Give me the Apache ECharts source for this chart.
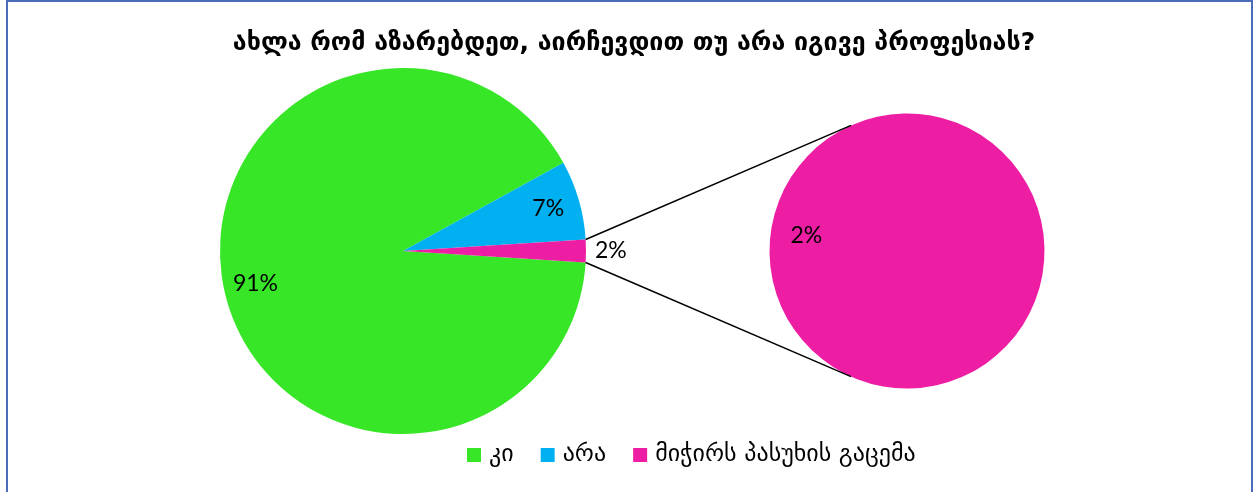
<!DOCTYPE html>
<html lang="ka">
<head>
    <meta charset="UTF-8">
    <script src="https://cdn.jsdelivr.net/npm/echarts@6/dist/echarts.min.js"></script>
    <style>
        html, body { margin: 0; padding: 0; background: #fff; }
    </style>
</head>
<body>
<div id="main" style="width: 1256px;height:492px;"></div>

<script type="text/javascript">
    // data
    var categories = ['კი', 'არა', 'მიჭირს პასუხის გაცემა'];
    var shares = [91, 7, 2];
    var detailCategories = ['მიჭირს პასუხის გაცემა'];
    var detailShares = [2];
    var colorList = ['#37e627', '#00b0f0', '#ed1ea4'];

    var myChart = echarts.init(document.getElementById('main'));

    // geometry of both pies
    var cx = 403, cy = 251, r = 183;
    var cx2 = 907, cy2 = 251, r2 = 137.5;

    // the last slice sits centred on the horizontal, pointing at the second pie
    var total = shares.reduce(function (a, b) { return a + b; }, 0);
    var lastAngle = shares[shares.length - 1] / total * 360;
    var startAngle = -lastAngle / 2;

    function pt(x, y, rad, deg) {
        var a = deg * Math.PI / 180;
        return [x + rad * Math.cos(a), y - rad * Math.sin(a)];
    }

    var p1 = pt(cx, cy, r, startAngle + lastAngle);
    var p2 = pt(cx, cy, r, startAngle);
    var q1 = pt(cx2, cy2, r2, 114);
    var q2 = pt(cx2, cy2, r2, -114);

    var mainData = categories.map(function (name, i) {
        var item = { name: name, value: shares[i], itemStyle: { color: colorList[i] } };
        if (i === categories.length - 1) {
            item.label = { position: 'outside' };
        }
        return item;
    });

    var detailData = detailCategories.map(function (name, i) {
        return { name: name, value: detailShares[i], itemStyle: { color: colorList[2] } };
    });

    var labelFont = 'Lato, "DejaVu Sans", sans-serif';

    var option = {
        animation: false,
        title: {
            text: 'ახლა რომ აზარებდეთ, აირჩევდით თუ არა იგივე პროფესიას?',
            left: 629,
            textAlign: 'center',
            top: 26,
            textStyle: {
                fontFamily: '"DejaVu Sans", sans-serif',
                fontSize: 25,
                fontWeight: 'bold',
                color: '#000'
            }
        },
        legend: {
            left: 462,
            top: 438,
            itemWidth: 14,
            itemHeight: 14,
            itemGap: 27,
            icon: 'rect',
            data: categories,
            selectedMode: false,
            textStyle: {
                fontFamily: '"DejaVu Sans", sans-serif',
                fontSize: 24,
                color: '#000',
                padding: [0, 0, 0, 3]
            }
        },
        graphic: [
            {
                type: 'rect',
                shape: { x: 7, y: 1, width: 1245, height: 520 },
                style: { fill: 'none', stroke: '#4a6cbb', lineWidth: 2 },
                silent: true
            },
            {
                type: 'line',
                shape: { x1: p1[0], y1: p1[1], x2: q1[0], y2: q1[1] },
                style: { stroke: '#000', lineWidth: 1.5 },
                silent: true,
                z: 10
            },
            {
                type: 'line',
                shape: { x1: p2[0], y1: p2[1], x2: q2[0], y2: q2[1] },
                style: { stroke: '#000', lineWidth: 1.5 },
                silent: true,
                z: 10
            }
        ],
        series: [
            {
                name: 'main',
                type: 'pie',
                center: [cx, cy],
                radius: [0, r],
                startAngle: startAngle,
                clockwise: true,
                avoidLabelOverlap: false,
                silent: true,
                data: mainData,
                label: {
                    show: true,
                    position: 'inside',
                    formatter: '{d}%',
                    fontFamily: labelFont,
                    fontSize: 23,
                    color: '#000'
                },
                labelLine: { show: false, length: 4, length2: 0 },
                // push inside labels out to ~0.8 of the radius
                labelLayout: function (params) {
                    if (params.dataIndex === categories.length - 1) {
                        return {};
                    }
                    var rc = params.labelRect;
                    var dx = rc.x + rc.width / 2 - cx;
                    var dy = rc.y + rc.height / 2 - cy;
                    return { dx: dx * 0.6, dy: dy * 0.6 };
                }
            },
            {
                name: 'detail',
                type: 'pie',
                center: [cx2, cy2],
                radius: [0, r2],
                startAngle: 350,
                silent: true,
                data: detailData,
                label: {
                    show: true,
                    position: 'inside',
                    formatter: '{c}%',
                    fontFamily: labelFont,
                    fontSize: 23,
                    color: '#000'
                },
                labelLine: { show: false },
                labelLayout: { dx: -30, dy: -3 }
            }
        ]
    };

    myChart.setOption(option);
</script>
</body>
</html>
